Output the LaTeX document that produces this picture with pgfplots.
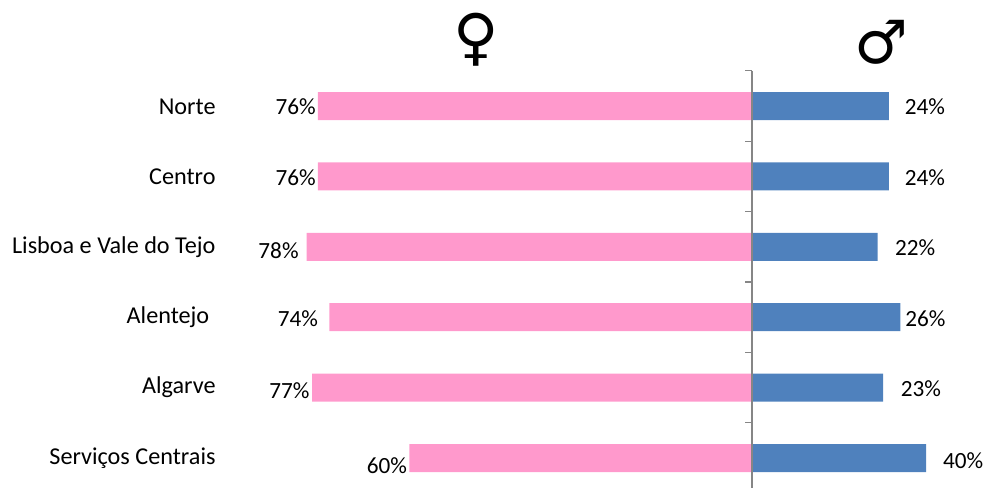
\documentclass[border=0pt]{standalone}
\usepackage{fontspec}
\setmainfont{Carlito}
\newfontfamily\symfont{DejaVu Sans}
\usepackage{pgfplots}
\pgfplotsset{compat=1.18}
\definecolor{fem}{HTML}{FF99CC}
\definecolor{mal}{HTML}{4F81BD}
\definecolor{axg}{HTML}{868686}
\pgfplotstableread{
y f
0 -76
1 -76
2 -78
3 -74
4 -77
5 -60
}\femtab
\pgfplotstableread{
y m
0 24
1 24
2 22
3 26
4 23
5 30.5
}\maltab
\tikzset{cat/.style={font=\fontsize{24.2}{26}\selectfont,inner sep=0pt},
  lab/.style={font=\fontsize{23.2}{26}\selectfont,inner sep=0pt}}
\begin{document}
\begin{tikzpicture}[x=1pt,y=1pt]
\path[use as bounding box] (0,0) rectangle (986,488);
\begin{axis}[
  at={(0,0)},anchor=south west,
  scale only axis,width=986pt,height=488pt,
  xmin=-131.68,xmax=41.0,
  ymin=-1.506,ymax=5.426,
  y dir=reverse,
  axis lines=none,
  clip=false,
]
\addplot[xbar,bar width=28pt,bar shift=0pt,draw=none,fill=fem] table[x=f,y=y] {\femtab};
\addplot[xbar,bar width=28pt,bar shift=0pt,draw=none,fill=mal] table[x=m,y=y] {\maltab};
\addplot[sharp plot,no marks,draw=axg,line width=1.5pt] coordinates {(0,-0.5)(0,5.426)};
\addplot[sharp plot,no marks,draw=axg,line width=1.2pt] coordinates {(-1.2,-0.5)(0,-0.5)};
\addplot[sharp plot,no marks,draw=axg,line width=1.2pt] coordinates {(-1.2,0.5)(0,0.5)};
\addplot[sharp plot,no marks,draw=axg,line width=1.2pt] coordinates {(-1.2,1.5)(0,1.5)};
\addplot[sharp plot,no marks,draw=axg,line width=1.2pt] coordinates {(-1.2,2.5)(0,2.5)};
\addplot[sharp plot,no marks,draw=axg,line width=1.2pt] coordinates {(-1.2,3.5)(0,3.5)};
\addplot[sharp plot,no marks,draw=axg,line width=1.2pt] coordinates {(-1.2,4.5)(0,4.5)};
\node[cat,anchor=east] at (axis cs:-93.9,0.01) {Norte};
\node[cat,anchor=east] at (axis cs:-93.9,1) {Centro};
\node[cat,anchor=east] at (axis cs:-93.9,2) {Lisboa e Vale do Tejo};
\node[cat,anchor=east] at (axis cs:-95,3) {Alentejo};
\node[cat,anchor=east] at (axis cs:-93.9,4) {Algarve};
\node[cat,anchor=east] at (axis cs:-93.9,5) {Serviços Centrais};
\node[lab] at (axis cs:-79.9,0.015) {76\%};
\node[lab] at (axis cs:-79.9,1.015) {76\%};
\node[lab] at (axis cs:-82.9,2.05) {78\%};
\node[lab] at (axis cs:-79.5,3.015) {74\%};
\node[lab] at (axis cs:-81,4.05) {77\%};
\node[lab] at (axis cs:-63.9,5.11) {60\%};
\node[lab] at (axis cs:30.3,0.015) {24\%};
\node[lab] at (axis cs:30.3,1.015) {24\%};
\node[lab] at (axis cs:28.6,2.015) {22\%};
\node[lab] at (axis cs:30.4,3.015) {26\%};
\node[lab] at (axis cs:29.6,4.015) {23\%};
\node[lab] at (axis cs:37,5.04) {40\%};
\node[inner sep=0pt,font=\symfont\fontsize{62}{64}\selectfont] at (axis cs:-48.3,-0.94) {♀};
\node[inner sep=0pt,font=\symfont\fontsize{60}{62}\selectfont] at (axis cs:22.7,-0.91) {♂};
\end{axis}
\end{tikzpicture}
\end{document}
